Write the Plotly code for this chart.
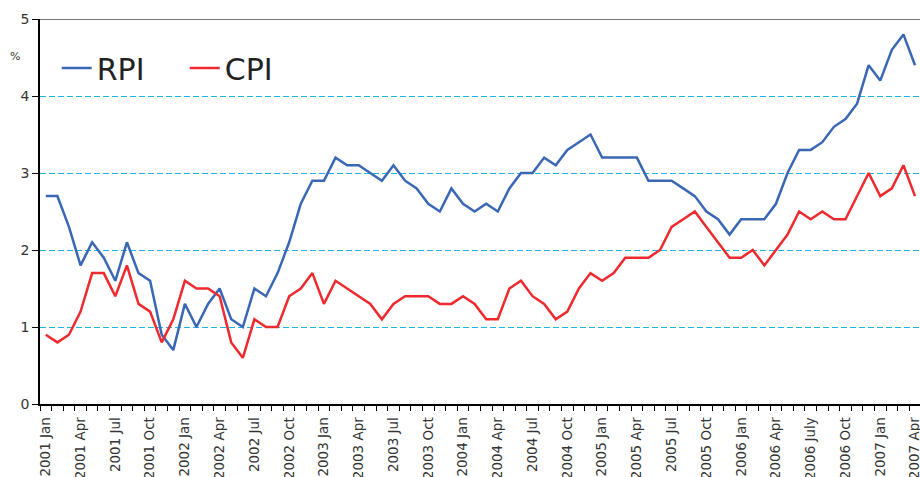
import plotly.graph_objects as go

months = []
for yr in range(2001, 2008):
    for m in ["Jan", "Feb", "Mar", "Apr", "May", "Jun", "Jul", "Aug", "Sep", "Oct", "Nov", "Dec"]:
        months.append(f"{yr} {m}")
months = months[:76]  # 2001 Jan .. 2007 Apr

rpi = [2.7, 2.7, 2.3, 1.8, 2.1, 1.9, 1.6, 2.1, 1.7, 1.6, 0.9, 0.7,
       1.3, 1.0, 1.3, 1.5, 1.1, 1.0, 1.5, 1.4, 1.7, 2.1, 2.6, 2.9,
       2.9, 3.2, 3.1, 3.1, 3.0, 2.9, 3.1, 2.9, 2.8, 2.6, 2.5, 2.8,
       2.6, 2.5, 2.6, 2.5, 2.8, 3.0, 3.0, 3.2, 3.1, 3.3, 3.4, 3.5,
       3.2, 3.2, 3.2, 3.2, 2.9, 2.9, 2.9, 2.8, 2.7, 2.5, 2.4, 2.2,
       2.4, 2.4, 2.4, 2.6, 3.0, 3.3, 3.3, 3.4, 3.6, 3.7, 3.9, 4.4,
       4.2, 4.6, 4.8, 4.4]
cpi = [0.9, 0.8, 0.9, 1.2, 1.7, 1.7, 1.4, 1.8, 1.3, 1.2, 0.8, 1.1,
       1.6, 1.5, 1.5, 1.4, 0.8, 0.6, 1.1, 1.0, 1.0, 1.4, 1.5, 1.7,
       1.3, 1.6, 1.5, 1.4, 1.3, 1.1, 1.3, 1.4, 1.4, 1.4, 1.3, 1.3,
       1.4, 1.3, 1.1, 1.1, 1.5, 1.6, 1.4, 1.3, 1.1, 1.2, 1.5, 1.7,
       1.6, 1.7, 1.9, 1.9, 1.9, 2.0, 2.3, 2.4, 2.5, 2.3, 2.1, 1.9,
       1.9, 2.0, 1.8, 2.0, 2.2, 2.5, 2.4, 2.5, 2.4, 2.4, 2.7, 3.0,
       2.7, 2.8, 3.1, 2.7]

tick_idx = list(range(0, 76, 3))
tick_text = [months[i] for i in tick_idx]
tick_text = [t.replace("2006 Jul", "2006 July") for t in tick_text]

x = list(range(len(months)))
FONT = "DejaVu Sans"

fig = go.Figure()
fig.add_trace(go.Scatter(x=x, y=rpi, mode="lines", name="RPI",
                         line=dict(color="#3a67b5", width=2.5)))
fig.add_trace(go.Scatter(x=x, y=cpi, mode="lines", name="CPI",
                         line=dict(color="#ee2a2e", width=2.5)))

fig.update_layout(
    width=920, height=477,
    margin=dict(l=40, r=0, t=19, b=73, autoexpand=False),
    paper_bgcolor="white", plot_bgcolor="white",
    font=dict(family=FONT, color="#333333", size=13),
    showlegend=True,
    legend=dict(orientation="h", x=0.019, y=0.873, xanchor="left", yanchor="middle",
                font=dict(size=30, color="#222222", family=FONT),
                bgcolor="rgba(0,0,0,0)", entrywidth=83, entrywidthmode="pixels"),
    xaxis=dict(range=[-0.5, 75.43], tickmode="array", tickvals=tick_idx, ticktext=tick_text,
               tickangle=-90, ticks="outside", ticklen=6, tickcolor="rgba(0,0,0,0)",
               automargin=False, ticklabeloverflow="allow",
               showgrid=False, zeroline=False, showline=True, linecolor="black", linewidth=1.5,
               tickfont=dict(size=13.5, color="#333333"),
               minor=dict(tickmode="array", tickvals=[i - 0.5 for i in range(77)],
                          ticks="outside", ticklen=5, tickcolor="black", tickwidth=1, showgrid=False)),
    yaxis=dict(range=[0, 5], tickvals=[0, 1, 2, 3, 4, 5], ticks="outside", ticklen=6,
               tickcolor="black", showline=True, linecolor="black", linewidth=1.5,
               automargin=False,
               showgrid=True, gridcolor="#1fb4e6", griddash="6px,3px", gridwidth=1,
               zeroline=False, tickfont=dict(size=14, color="#333333")),
)
fig.add_shape(type="line", xref="paper", yref="y", x0=0, x1=1, y0=5, y1=5,
              line=dict(color="#444444", width=1.5))
fig.add_annotation(text="%", xref="paper", yref="paper", x=-0.028, y=0.902,
                   xanchor="center", yanchor="middle",
                   showarrow=False, font=dict(size=11, color="#333333", family=FONT))

fig.write_html("out.html", config={"displayModeBar": False},
               post_script="document.body.style.margin='0';document.body.style.overflow='hidden';")
